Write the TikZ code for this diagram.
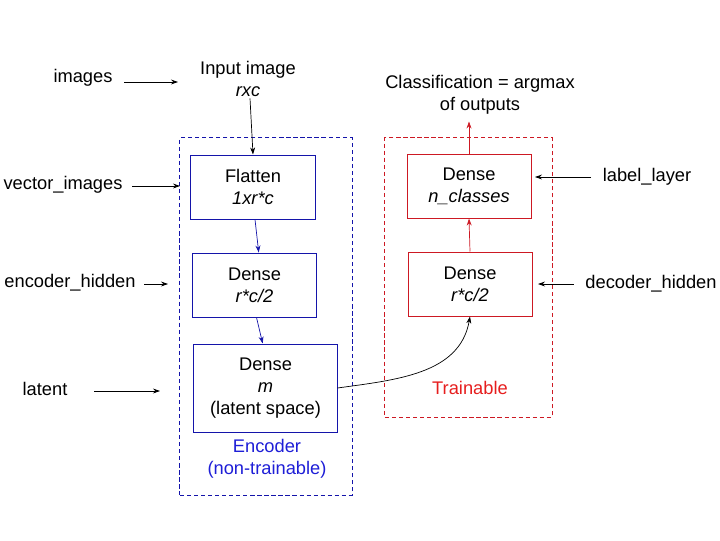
\documentclass[tikz,border=0pt]{standalone}
\usepackage{fontspec}
\setmainfont{Liberation Sans}
\usepackage{tikz}
\usetikzlibrary{arrows.meta,positioning}

\definecolor{encblue}{RGB}{20,20,170}
\definecolor{enctext}{RGB}{30,30,215}
\definecolor{trainred}{RGB}{205,25,35}
\definecolor{traintext}{RGB}{230,30,30}

\tikzset{
	txt/.style={font=\fontsize{13}{15.6}\selectfont, align=center, inner sep=1pt},
	layer/.style={txt, draw, line width=0.7pt, minimum width=3.1cm, minimum height=1.6cm},
	enclayer/.style={layer, draw=encblue},
	trlayer/.style={layer, draw=trainred},
	group/.style={draw, dashed, dash pattern=on 3pt off 2pt, line width=0.7pt, inner sep=0pt},
	arr/.style={-{Stealth[length=5pt,width=3.5pt]}, line width=0.5pt},
}

\begin{document}
\begin{tikzpicture}[x=0.025cm, y=-0.025cm]
			\useasboundingbox (0,0) rectangle (720,540);
			% groups
			\node [group, draw=encblue, minimum width=4.3cm, minimum height=8.925cm] (enc) at (266,316.5) {};
			\node [group, draw=trainred, minimum width=4.175cm, minimum height=6.975cm] (train) at (468.5,277.5) {};
			%
			% encoder layers
			\node [txt] (input) at (248,79) {Input image\\\textit{rxc}};
			\node [enclayer] (flatten) at (253,187) {Flatten\\\textit{1xr*c}};
			\node [enclayer] (enchidden) at (254.5,285) {Dense\\\textit{r*c/2}};
			\node [enclayer, minimum width=3.575cm, minimum height=2.2cm] (latentbox) at (265.5,388) {Dense\\\textit{m}\\(latent space)};
			\node [txt, text=enctext] (enclabel) at (267,459) {Encoder\\(non-trainable)};
			%
			% trainable layers
			\node [txt] (output) at (480,95) {Classification = argmax\\of outputs};
			\node [trlayer] (labellayer) at (469,186) {Dense\\\textit{n\_classes}};
			\node [trlayer] (dechidden) at (470,284) {Dense\\\textit{r*c/2}};
			\node [txt, text=traintext] (trlabel) at (470,388) {Trainable};
			%
			\draw [arr] (input.south) ++(2,0) -- (flatten.north);
			\draw [arr, encblue] (flatten.south) ++(2,0) coordinate (f1) -- ([xshift=3pt]enchidden.north);
			\draw [arr, encblue] (enchidden.south) ++(2,0) -- ([xshift=-2pt]latentbox.north);
			\draw [arr, trainred] (dechidden.north) -- (labellayer.north |- labellayer.south);
			\draw [arr, trainred] (labellayer.north) -- ++(0,-32);
			\draw [arr] (latentbox.east) to[out=8, in=-100] (dechidden.south);
			%
			% layer names
			\node [txt] (images) at (83,78) {images};
			\node [txt] (vecimages) at (63,185) {vector\_images};
			\node [txt] (enchid) at (70,283) {encoder\_hidden};
			\node [txt] (latent) at (45,389) {latent};
			\node [txt] (label) at (647,177) {label\_layer};
			\node [txt] (dechid) at (651,284) {decoder\_hidden};
			%
			\coordinate (a1) at (178,82);
			\coordinate (a2) at (180,186);
			\coordinate (a3) at (168,284);
			\coordinate (a4) at (160,391);
			\coordinate (a5) at (535,177);
			\coordinate (a6) at (538,284);
			\draw [arr] (images.east |- a1) ++(10,0) -- (a1);
			\draw [arr] (vecimages.east |- a2) ++(8,0) -- (a2);
			\draw [arr] (enchid.east |- a3) ++(7,0) -- (a3);
			\draw [arr] (latent.east |- a4) ++(25,0) -- (a4);
			\draw [arr] (label.west |- a5) ++(-10,0) -- (a5);
			\draw [arr] (dechid.west |- a6) ++(-10,0) -- (a6);
		\end{tikzpicture}
\end{document}
